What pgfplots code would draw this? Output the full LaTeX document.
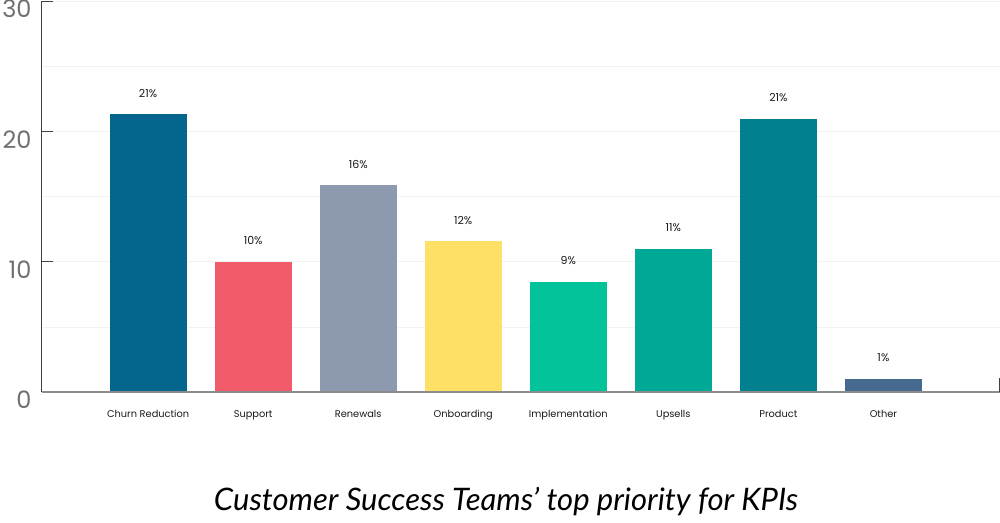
\documentclass[border=0pt]{standalone}
\usepackage{pgfplots}
\pgfplotsset{compat=1.18}
\usepackage{fontspec}
\setmainfont{Poppins}
\newfontfamily\titlefont{Lato}
\definecolor{cChurn}{HTML}{05668D}
\definecolor{cSupport}{HTML}{F25C6A}
\definecolor{cRenew}{HTML}{8D99AE}
\definecolor{cOnb}{HTML}{FFE066}
\definecolor{cImpl}{HTML}{02C39A}
\definecolor{cUps}{HTML}{00A896}
\definecolor{cProd}{HTML}{028090}
\definecolor{cOther}{HTML}{45698F}
\definecolor{tickgray}{HTML}{707070}
\begin{document}
\begin{tikzpicture}
\useasboundingbox (-42pt,-130pt) rectangle (958pt,392pt);
\begin{axis}[
  at={(0,0)}, anchor=south west,
  scale only axis, width=958pt, height=391pt,
  ymin=0, ymax=30, xmin=-1.01, xmax=8.11,
  axis x line*=bottom, axis y line*=left,
  axis line style={draw=none},
  ytick={0,10,20,30}, minor ytick={5,15,25},
  ymajorgrids, yminorgrids,
  major grid style={draw=black!5, line width=0.6pt},
  minor grid style={draw=black!5, line width=0.6pt},
  major tick length=0pt, minor tick length=0pt,
  yticklabel style={font=\fontsize{24}{24}\selectfont, text=tickgray, xshift=-7pt, yshift=-8pt},
  /pgf/number format/assume math mode=true,
  xtick={0,...,7},
  xticklabels={Churn Reduction,Support,Renewals,Onboarding,Implementation,Upsells,Product,Other},
  xticklabel style={font=\fontsize{9.8}{9.8}\selectfont, text=black!90, yshift=-15pt},
  xtick style={draw=none},
  ybar, bar width=77pt, bar shift=0pt,
  point meta=explicit symbolic,
  nodes near coords,
  every node near coord/.append style={font=\fontsize{11}{11}\selectfont, text=black!90, anchor=south, inner sep=0pt, yshift=17pt},
  clip=false,
]
\addplot[fill=cChurn, draw=none] table[meta=l] {x y l
0 21.3 21\%
};
\addplot[fill=cSupport, draw=none] table[meta=l] {x y l
1 10.0 10\%
};
\addplot[fill=cRenew, draw=none] table[meta=l] {x y l
2 15.85 16\%
};
\addplot[fill=cOnb, draw=none] table[meta=l] {x y l
3 11.56 12\%
};
\addplot[fill=cImpl, draw=none] table[meta=l] {x y l
4 8.42 9\%
};
\addplot[fill=cUps, draw=none] table[meta=l] {x y l
5 10.95 11\%
};
\addplot[fill=cProd, draw=none] table[meta=l] {x y l
6 20.98 21\%
};
\addplot[fill=cOther, draw=none] table[meta=l] {x y l
7 1.0 1\%
};
\draw[black!75, line width=1pt] (rel axis cs:0,0) -- (rel axis cs:0,1);
\draw[black!75, line width=1.1pt] (axis cs:-1.01,10) -- ++(11pt,0pt);
\draw[black!75, line width=1.1pt] (axis cs:-1.01,20) -- ++(11pt,0pt);
\draw[black!75, line width=1.1pt] (axis cs:-1.01,30) ++(0pt,-0.6pt) -- ++(11pt,0pt);
\draw[black!45, line width=1.4pt] (rel axis cs:0,0) -- (rel axis cs:1,0);
\draw[black!75, line width=1pt] (rel axis cs:1,0) ++(-1pt,0pt) -- ++(0pt,14pt);
\end{axis}
\node[font=\titlefont\itshape\fontsize{31}{31}\selectfont, text=black] at (464pt,-110pt) {Customer Success Teams’ top priority for KPIs};
\end{tikzpicture}
\end{document}
